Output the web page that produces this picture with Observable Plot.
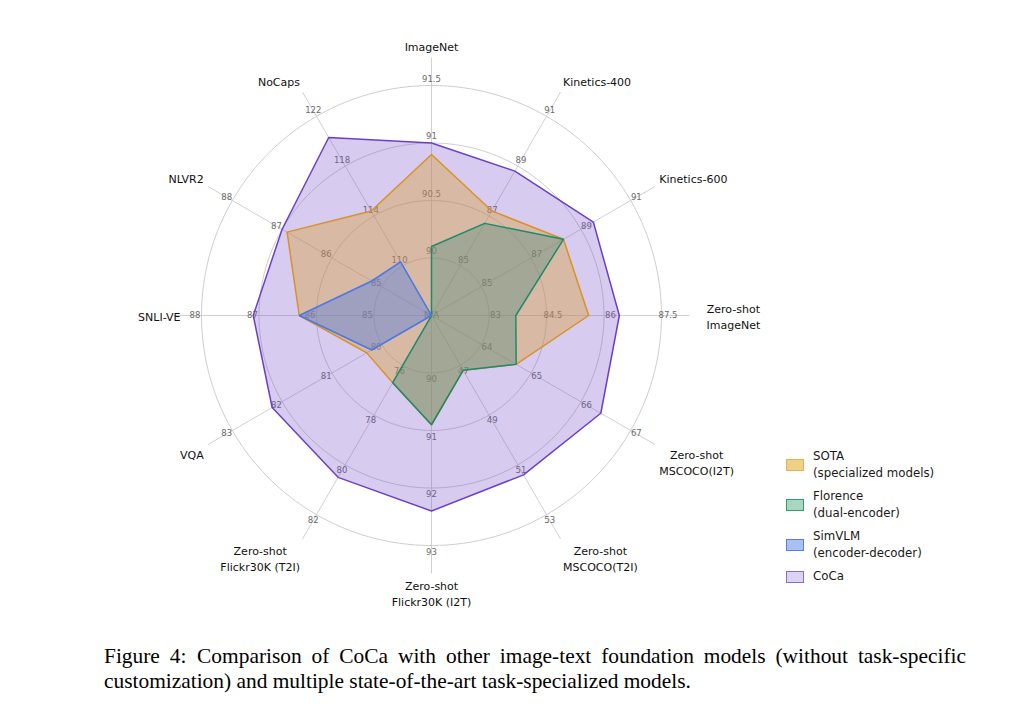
<!DOCTYPE html>
<html>
<head>
<meta charset="utf-8">
<script src="https://cdn.jsdelivr.net/npm/d3@7"></script>
<script src="https://cdn.jsdelivr.net/npm/@observablehq/plot@0.6"></script>
<style>
  html, body { margin: 0; padding: 0; background: #fff; }
  #wrap { position: relative; width: 1015px; height: 704px; overflow: hidden; }
  #chart { position: absolute; left: 0; top: 0; }
  #legend { position: absolute; left: 786px; top: 448px; font-family: "DejaVu Sans", sans-serif; font-size: 11.8px; color: #1a1a1a; }
  .entry { display: flex; align-items: center; height: 34px; margin-bottom: 6px; }
  .entry.single { height: 17px; }
  .sw { width: 16px; height: 10px; border: 1px solid; margin-right: 9px; flex: none; }
  .lbl { line-height: 17px; }
  #caption { position: absolute; left: 104px; top: 644px; width: 862px; font-family: "Liberation Serif", "Times New Roman", serif; font-size: 21.4px; line-height: 25px; color: #000; }
  #caption .l1 { white-space: nowrap; text-align: justify; text-align-last: justify; }
  #caption .l2 { white-space: nowrap; }
</style>
</head>
<body>
<div id="wrap">
  <div id="chart"></div>
  <div id="legend"></div>
  <div id="caption"></div>
</div>
<script>
// ---------- data ----------
const categories = [
  "ImageNet", "Kinetics-400", "Kinetics-600", "Zero-shot\nImageNet",
  "Zero-shot\nMSCOCO(I2T)", "Zero-shot\nMSCOCO(T2I)", "Zero-shot\nFlickr30K (I2T)",
  "Zero-shot\nFlickr30K (T2I)", "VQA", "SNLI-VE", "NLVR2", "NoCaps"
];
const tickLabels = [
  ["90", "90.5", "91", "91.5"],
  ["85", "87", "89", "91"],
  ["85", "87", "89", "91"],
  ["83", "84.5", "86", "87.5"],
  ["64", "65", "66", "67"],
  ["47", "49", "51", "53"],
  ["90", "91", "92", "93"],
  ["76", "78", "80", "82"],
  ["80", "81", "82", "83"],
  ["85", "86", "87", "88"],
  ["85", "86", "87", "88"],
  ["110", "114", "118", "122"]
];
const centerLabel = "N/A";
const seriesNames = ["CoCa", "SOTA", "Florence", "SimVLM"];
const legendNames = ["SOTA\n(specialized models)", "Florence\n(dual-encoder)", "SimVLM\n(encoder-decoder)", "CoCa"];
const sotaValues     = [90.9, 87.2, 88.3, 85.6, 64.7, 47.2, 90.9, 76.7, 80.3, 86.3, 86.9, 114.4];
const florenceValues = [90.1, 86.7, 88.3, 83.7, 64.7, 47.2, 90.9, 76.7, null, null, null, null];
const simvlmValues   = [null, null, null, null, null, null, null, null, 80.2, 86.3, 85.2, 110.3];
const cocaValues     = [91.0, 88.8, 89.5, 86.4, 66.4, 51.4, 92.4, 80.5, 82.2, 87.1, 87.0, 120.3];
const captionLines = [
  "Figure 4:\u2002Comparison of CoCa with other image-text foundation models (without task-specific",
  "customization) and multiple state-of-the-art task-specialized models."
];

// ---------- styles ----------
const styles = {
  CoCa:     {stroke: "#6c3fc6", fill: "#7b52c9", fo: 0.30, swFill: "#dcd2f3", swStroke: "#8e6ad6"},
  SOTA:     {stroke: "#d8922a", fill: "#d99e31", fo: 0.40, swFill: "#f0d089", swStroke: "#e3b24c"},
  Florence: {stroke: "#1e8a6c", fill: "#3f8a7c", fo: 0.35, swFill: "#a9d6c0", swStroke: "#2e9e6e"},
  SimVLM:   {stroke: "#4a78e8", fill: "#4c78e9", fo: 0.40, swFill: "#a9c0f0", swStroke: "#4f82e6"}
};
const valuesBy = {CoCa: cocaValues, SOTA: sotaValues, Florence: florenceValues, SimVLM: simvlmValues};

// ---------- geometry ----------
const W = 1015, H = 630, CX = 431, CY = 315, U = 57.5; // px per ring
const n = categories.length;
const angle = i => i * 2 * Math.PI / n;
const axisScale = tickLabels.map(t => {
  const a = +t[0], b = +t[1];
  const step = b - a;
  return v => (v == null ? 0 : (v - (a - step)) / step);
});
const pt = (i, r) => ({x: r * Math.sin(angle(i)), y: r * Math.cos(angle(i))});

const rings = [];
for (let k = 1; k <= 4; k++) for (let d = 0; d < 360; d += 2) {
  const t = d * Math.PI / 180;
  rings.push({ring: k, x: k * Math.sin(t), y: k * Math.cos(t)});
}
const spokeLen = 258 / U;
const spokes = categories.map((c, i) => ({...pt(i, spokeLen), i}));
const ticks = [];
tickLabels.forEach((t, i) => t.forEach((lab, k) => ticks.push({...pt(i, k + 1 + 6.5 / U), lab})));

const polys = [];
seriesNames.forEach(s => valuesBy[s].forEach((v, i) => polys.push({series: s, ...pt(i, axisScale[i](v))})));

// category label placement
const ctx = document.createElement("canvas").getContext("2d");
ctx.font = "11px 'DejaVu Sans'";
const lh = 16;
const labelMarks = categories.map((c, i) => {
  const lines = c.split("\n");
  const w = Math.max(...lines.map(l => ctx.measureText(l).width));
  const h = lines.length * lh - 3;
  const s = Math.sin(angle(i)), co = Math.cos(angle(i));
  const hs = Math.abs(s) < 0.01 ? 0 : Math.sign(s);
  const vs = Math.abs(co) < 0.01 ? 0 : Math.sign(co);
  let dx = hs * w / 2, dy = -vs * h / 2;
  if (vs === 0) dx += 12;
  const p = pt(i, 263 / U);
  return Plot.text([{...p, c}], {x: "x", y: "y", text: "c", dx, dy, textAnchor: "middle", lineAnchor: "middle",
    lineHeight: lh / 11, fontSize: 11, fontFamily: "DejaVu Sans", fill: "#111"});
});

const order = ["CoCa", "SOTA", "Florence", "SimVLM"];
const chart = Plot.plot({
  width: W, height: H, margin: 0,
  style: {background: "transparent", overflow: "visible"},
  x: {domain: [-CX / U, (W - CX) / U], axis: null},
  y: {domain: [-(H - CY) / U, CY / U], axis: null},
  marks: [
    Plot.line(rings, {x: "x", y: "y", z: "ring", curve: "linear-closed", stroke: "#c8c8c8", strokeWidth: 0.9}),
    Plot.link(spokes, {x1: 0, y1: 0, x2: "x", y2: "y", stroke: "#cbcbcb", strokeWidth: 0.9}),
    Plot.text(ticks, {x: "x", y: "y", text: "lab", fontSize: 8.5, fontFamily: "DejaVu Sans", fill: "#6a6a6a"}),
    Plot.text([{x: 0, y: 0}], {x: "x", y: "y", text: () => centerLabel, fontSize: 8.5, fontFamily: "DejaVu Sans", fill: "#6a6a6a"}),
    ...order.map(s => Plot.line(polys.filter(d => d.series === s), {
      x: "x", y: "y", curve: "linear-closed",
      stroke: styles[s].stroke, strokeWidth: 1.5, strokeLinejoin: "miter",
      fill: styles[s].fill, fillOpacity: styles[s].fo
    })),
    ...labelMarks
  ]
});
document.getElementById("chart").appendChild(chart);

// legend
const leg = document.getElementById("legend");
legendNames.forEach(name => {
  const key = name.split("\n")[0];
  const st = styles[key];
  const e = document.createElement("div");
  e.className = "entry" + (name.includes("\n") ? "" : " single");
  const sw = document.createElement("div");
  sw.className = "sw";
  sw.style.background = st.swFill;
  sw.style.borderColor = st.swStroke;
  const l = document.createElement("div");
  l.className = "lbl";
  name.split("\n").forEach((t, j) => {
    if (j) l.appendChild(document.createElement("br"));
    l.appendChild(document.createTextNode(t));
  });
  e.appendChild(sw); e.appendChild(l);
  leg.appendChild(e);
});

// caption
const cap = document.getElementById("caption");
captionLines.forEach((t, j) => {
  const d = document.createElement("div");
  d.className = j === 0 ? "l1" : "l2";
  d.textContent = t;
  cap.appendChild(d);
});
</script>
</body>
</html>
